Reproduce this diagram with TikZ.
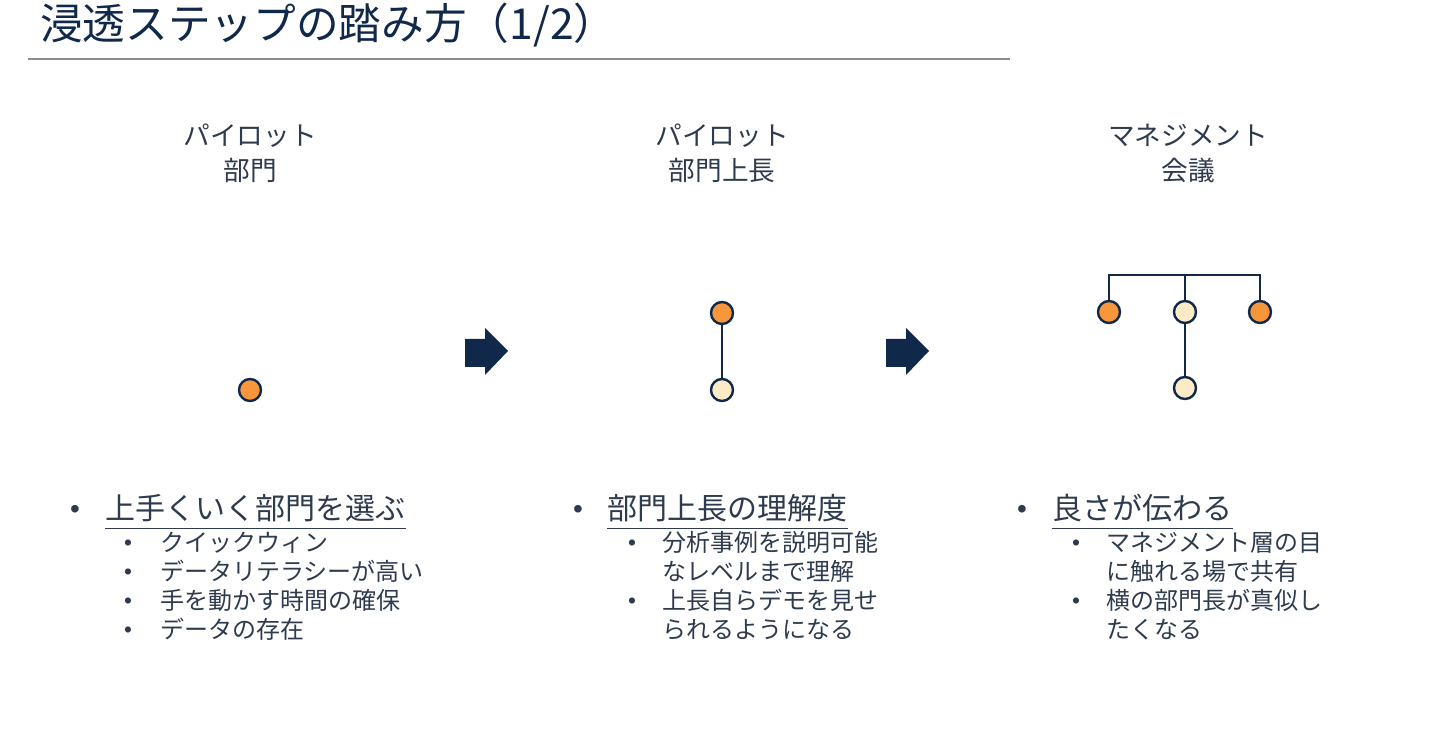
\documentclass[tikz,border=0pt]{standalone}
\usepackage{fontspec}
\newfontfamily\jp{Noto Sans CJK JP}
\newfontfamily\bul{Liberation Sans}
\definecolor{navy}{HTML}{10294B}
\definecolor{txtc}{HTML}{2E3B4E}
\definecolor{orangec}{HTML}{F7963A}
\definecolor{lightc}{HTML}{FDEBC6}
\definecolor{rulec}{HTML}{8C8C8C}
\tikzset{
  ttl/.style={anchor=base west, inner sep=0, text=navy, font=\jp\fontsize{32pt}{38pt}\selectfont},
  hdr/.style={anchor=base, inner sep=0, text=txtc, font=\jp\fontsize{20pt}{24pt}\selectfont},
  mainb/.style={anchor=base west, inner sep=0, text=txtc, font=\jp\fontsize{22.5pt}{27pt}\selectfont},
  subb/.style={anchor=base west, inner sep=0, text=txtc, font=\jp\fontsize{18pt}{22pt}\selectfont},
  mbul/.style={anchor=base, inner sep=0, text=txtc, font=\bul\fontsize{21pt}{24pt}\selectfont},
  sbul/.style={anchor=base, inner sep=0, text=txtc, font=\bul\fontsize{17pt}{20pt}\selectfont},
  uline/.style={draw=txtc, line width=1.1pt},
  dotO/.style={circle, inner sep=0, minimum size=16.5pt, draw=navy, line width=1.8pt, fill=orangec},
  dotL/.style={circle, inner sep=0, minimum size=16.5pt, draw=navy, line width=1.8pt, fill=lightc},
  link/.style={draw=navy, line width=1.8pt},
  blockarrow/.style={fill=navy}
}
\begin{document}
\begin{tikzpicture}[x=0.75pt,y=-0.75pt]
\useasboundingbox (0,0) rectangle (1440,745);
% title
\node[ttl] (title) at (40,40) {浸透ステップの踏み方（1/2）};
\coordinate (r1) at (28,59);
\coordinate (r2) at (1010,59);
\draw[draw=rulec, line width=0.8pt] (r1) -- (r2);
% headers
\node[hdr] (h1a) at (250,146) {パイロット};
\node[hdr] (h1b) at (250,181) {部門};
\node[hdr] (h2a) at (722,146) {パイロット};
\node[hdr] (h2b) at (722,181) {部門上長};
\node[hdr] (h3a) at (1188,146) {マネジメント};
\node[hdr] (h3b) at (1188,181) {会議};
% column 1 dot
\node[dotO] (a1) at (250,390) {};
% column 2
\node[dotO] (b1) at (722,313) {};
\node[dotL] (b2) at (722,390) {};
\draw[link] (b1) -- (b2);
% column 3
\coordinate (bar) at (1185,275);
\node[dotO] (c1) at (1109,312) {};
\node[dotL] (c2) at (1185,312) {};
\node[dotO] (c3) at (1260,312) {};
\node[dotL] (c4) at (1185,388) {};
\draw[link] (c1) |- (bar) -| (c3);
\draw[link] (c2) -- (bar);
\draw[link] (c2) -- (c4);
% arrows
\fill[blockarrow, shift={(487,351)}] (-22,-12) -- (-2,-12) -- (-2,-23) -- (21,0) -- (-2,24) -- (-2,16) -- (-22,16) -- cycle;
\fill[blockarrow, shift={(908,351)}] (-22,-12) -- (-2,-12) -- (-2,-23) -- (21,0) -- (-2,24) -- (-2,16) -- (-22,16) -- cycle;
% column 1 list
\node[mbul] (p1) at (75,518) {•};
\node[mainb] (m1) at (105,519) {上手くいく部門を選ぶ};
\draw[uline] ([yshift=-7pt]m1.base west) -- ([yshift=-7pt]m1.base east);
\node[sbul] (s11) at (128,550) {•};
\node[subb] (t11) at (160,551) {クイックウィン};
\node[sbul] (s12) at (128,579) {•};
\node[subb] (t12) at (160,580) {データリテラシーが高い};
\node[sbul] (s13) at (128,608) {•};
\node[subb] (t13) at (160,609) {手を動かす時間の確保};
\node[sbul] (s14) at (128,637) {•};
\node[subb] (t14) at (160,638) {データの存在};
% column 2 list
\node[mbul] (p2) at (578,518) {•};
\node[mainb] (m2) at (607,519) {部門上長の理解度};
\draw[uline] ([yshift=-7pt]m2.base west) -- ([yshift=-7pt]m2.base east);
\node[sbul] (s21) at (632,550) {•};
\node[subb] (t21) at (662,551) {分析事例を説明可能};
\node[subb] (t21b) at (662,580) {なレベルまで理解};
\node[sbul] (s22) at (632,608) {•};
\node[subb] (t22) at (662,609) {上長自らデモを見せ};
\node[subb] (t22b) at (662,638) {られるようになる};
% column 3 list
\node[mbul] (p3) at (1022,518) {•};
\node[mainb] (m3) at (1052,519) {良さが伝わる};
\draw[uline] ([yshift=-7pt]m3.base west) -- ([yshift=-7pt]m3.base east);
\node[sbul] (s31) at (1076,550) {•};
\node[subb] (t31) at (1106,551) {マネジメント層の目};
\node[subb] (t31b) at (1106,580) {に触れる場で共有};
\node[sbul] (s32) at (1076,608) {•};
\node[subb] (t32) at (1106,609) {横の部門長が真似し};
\node[subb] (t32b) at (1106,638) {たくなる};
\end{tikzpicture}
\end{document}
